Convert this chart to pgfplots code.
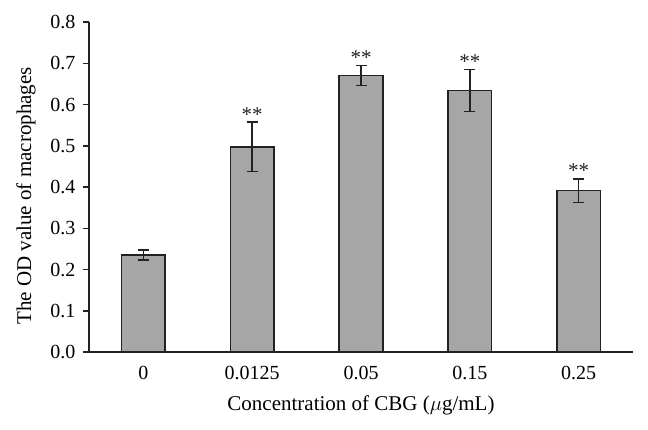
\documentclass[border=0pt]{standalone}
\usepackage{pgfplots}
\pgfplotsset{compat=1.18}
\usepackage{fontspec}
\setmainfont{Liberation Serif}
\definecolor{barfill}{HTML}{A6A6A6}
\definecolor{edge}{HTML}{222222}
\begin{document}
\begin{tikzpicture}
\begin{axis}[
  at={(0pt,0pt)}, anchor=south west,
  width=544pt, height=330pt, scale only axis,
  xmin=-0.5, xmax=4.5, ymin=0, ymax=0.8,
  axis x line*=bottom, axis y line*=left,
  axis line style={edge, line width=1.5pt},
  xtick=data, xticklabels={0,0.0125,0.05,0.15,0.25},
  x tick style={draw=none},
  ytick={0,0.1,...,0.8},
  y tick style={edge, line width=1.5pt},
  tick align=outside, major tick length=6pt,
  yticklabel style={/pgf/number format/fixed, /pgf/number format/precision=1, /pgf/number format/fixed zerofill, xshift=-4pt},
  /pgf/number format/assume math mode=true,
  ticklabel style={font=\fontsize{20}{24}\selectfont},
  xticklabel style={yshift=-5pt},
  label style={font=\fontsize{21}{25}\selectfont},
  xlabel={Concentration of CBG ($\mu$g/mL)},
  xlabel style={yshift=-9pt},
  ylabel={The OD value of macrophages},
  ylabel style={at={(axis description cs:-0.116,0.473)}, anchor=center},
  clip=false,
]
\addplot[ybar, bar width=0.4, fill=barfill, draw=edge, line width=1.5pt,
  error bars/.cd, y dir=both, y explicit,
  error bar style={edge, line width=1.5pt},
  error mark options={rotate=90, mark size=5.5pt, line width=1.5pt, edge}]
  coordinates {
  (0,0.235) +- (0,0.012)
  (1,0.497) +- (0,0.060)
  (2,0.670) +- (0,0.024)
  (3,0.634) +- (0,0.051)
  (4,0.391) +- (0,0.029)
  };
\addplot[draw=none, mark=none, nodes near coords, point meta=explicit symbolic,
  nodes near coords align={above},
  every node near coord/.append style={font=\fontsize{21}{25}\selectfont, color=edge, inner sep=1pt}]
  coordinates {
  (1,0.557) [**]
  (2,0.694) [**]
  (3,0.685) [**]
  (4,0.420) [**]
  };
\end{axis}
\path[use as bounding box] (-89pt,-77pt) rectangle (559pt,352pt);
\end{tikzpicture}
\end{document}
